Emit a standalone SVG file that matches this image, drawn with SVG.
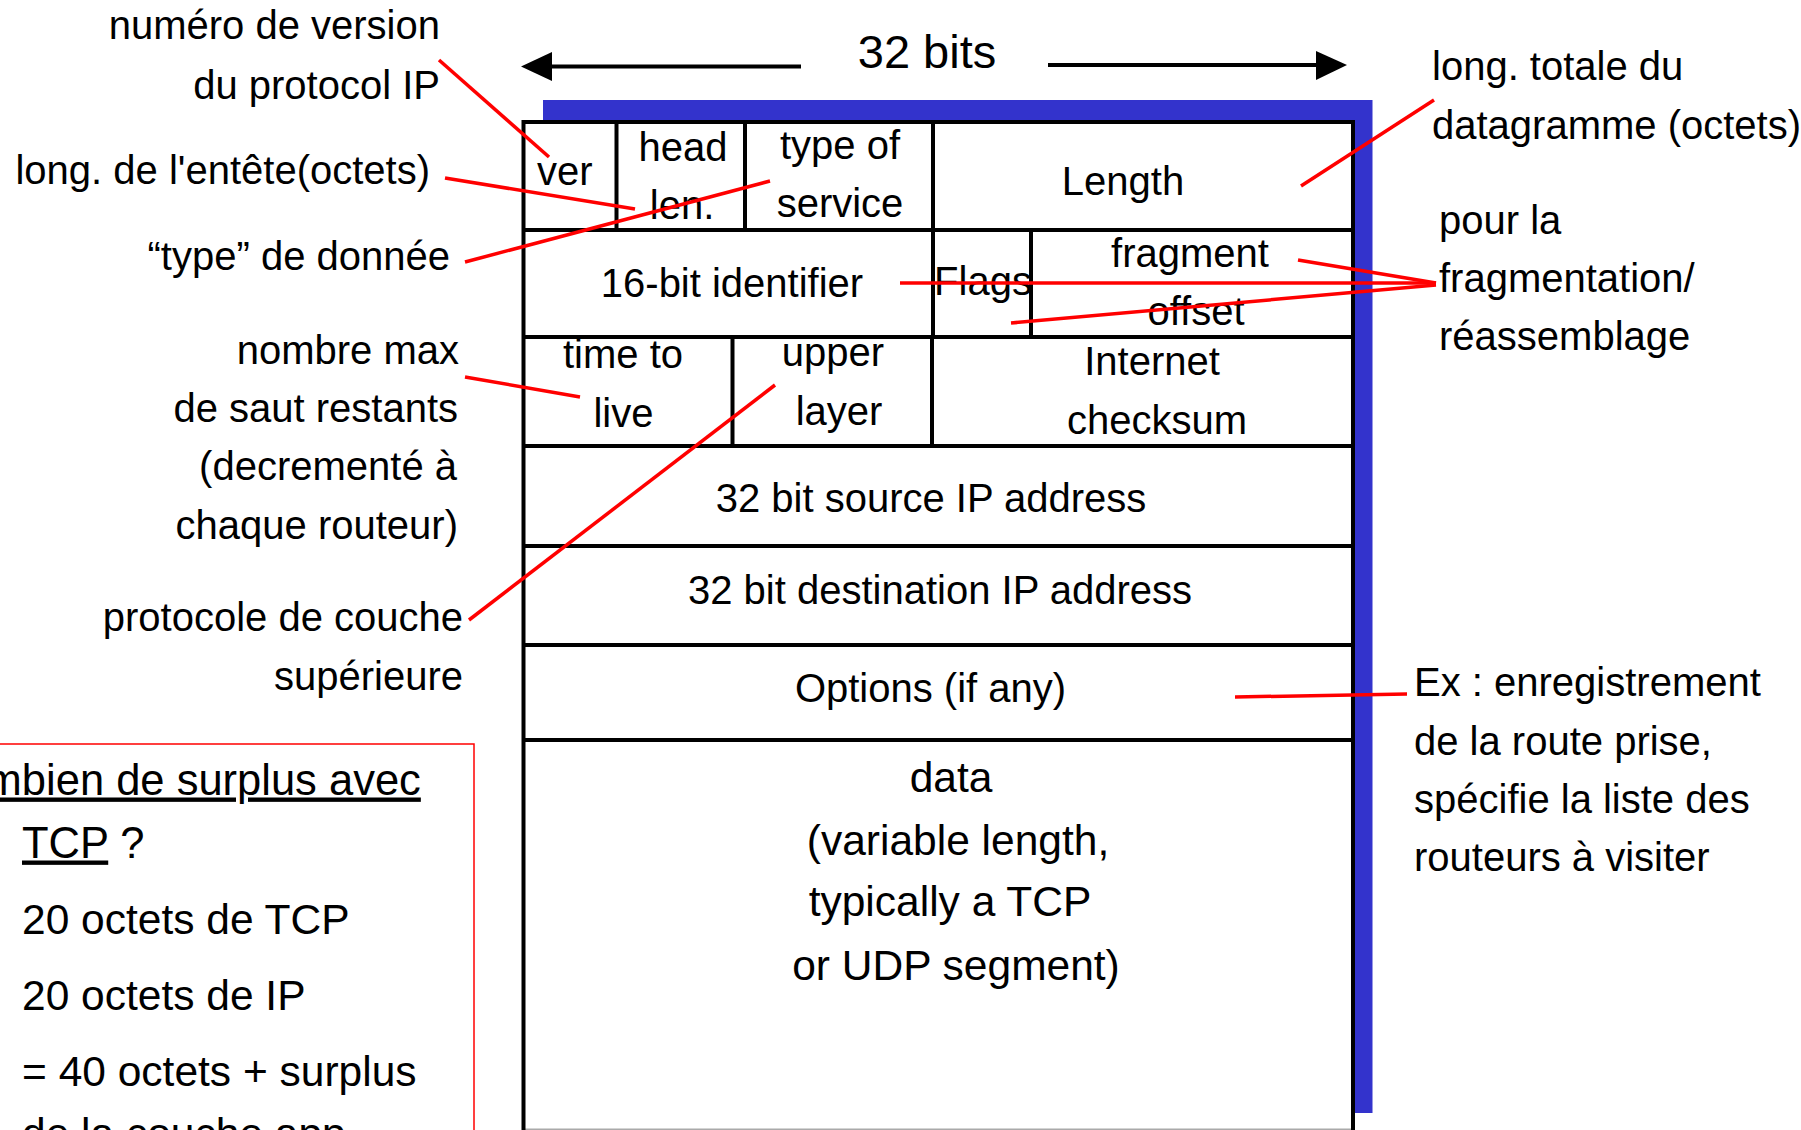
<svg xmlns="http://www.w3.org/2000/svg" width="1801" height="1130" viewBox="0 0 1801 1130">
<style>
text{font-family:"Liberation Sans",Arial,Helvetica,sans-serif;font-size:40px;fill:#000}
.m{text-anchor:middle}
.e{text-anchor:end}
.tl{stroke:#000;stroke-width:4;fill:none}
.rl{stroke:#ff0000;stroke-width:3.5;fill:none}
.u{text-decoration:underline}
.d{font-size:42.5px}
</style>
<rect width="1801" height="1130" fill="#fff"/>

<g id="width-arrow">
<line x1="550" y1="66.5" x2="801" y2="66.5" stroke="#000" stroke-width="4"/>
<polygon points="521,66.5 552,52 552,81" fill="#000"/>
<line x1="1048" y1="65" x2="1318" y2="65" stroke="#000" stroke-width="4"/>
<polygon points="1347,65 1316,51 1316,80" fill="#000"/>
<text x="927" y="68" class="m" style="font-size:47px">32 bits</text>
</g>

<g id="datagram">
<rect x="543" y="100" width="829.5" height="1013" fill="#3333cc"/>
<rect x="523.5" y="122" width="829.5" height="1010" fill="#fff"/>
<line x1="525" y1="1129.5" x2="1351" y2="1129.5" stroke="#aaa" stroke-width="2"/>
<path class="tl" d="M523.5,1132 V122 H1353 V1132"/>
<path class="tl" d="M523.5,230 H1353 M523.5,337 H1353 M523.5,446 H1353 M523.5,546 H1353 M523.5,645 H1353 M523.5,740 H1353"/>
<path class="tl" d="M616.5,122 V230 M745,122 V230 M933,122 V230 M933,230 V337 M1031,230 V337 M732.5,337 V446 M932,337 V446"/>
</g>

<g id="f-ver"><text x="537" y="185">ver</text></g>
<g id="f-headlen"><text x="683" y="161" class="m">head</text><text x="682" y="219" class="m">len.</text></g>
<g id="f-tos"><text x="840" y="159" class="m">type of</text><text x="840" y="217" class="m">service</text></g>
<g id="f-length"><text x="1123" y="195" class="m">Length</text></g>
<g id="f-id"><text x="732" y="297" class="m">16-bit identifier</text></g>
<g id="f-flags"><text x="983" y="295" class="m">Flags</text></g>
<g id="f-frag"><text x="1190" y="267" class="m">fragment</text><text x="1196" y="325" class="m">offset</text></g>
<g id="f-ttl"><text x="623" y="368" class="m">time to</text><text x="623.5" y="427" class="m">live</text></g>
<g id="f-upper"><text x="833" y="366" class="m">upper</text><text x="839" y="425" class="m">layer</text></g>
<g id="f-checksum"><text x="1152" y="375" class="m">Internet</text><text x="1157" y="434" class="m">checksum</text></g>
<g id="f-src"><text x="931" y="512" class="m">32 bit source IP address</text></g>
<g id="f-dst"><text x="940" y="604" class="m">32 bit destination IP address</text></g>
<g id="f-options"><text x="930.5" y="701.5" class="m">Options (if any)</text></g>
<g id="f-data">
<text x="951" y="792" class="m d">data</text>
<text x="958" y="855" class="m d">(variable length,</text>
<text x="950" y="916" class="m d">typically a TCP</text>
<text x="956" y="980" class="m d">or UDP segment)</text>
</g>

<g id="l-version"><text x="440" y="39" class="e">numéro de version</text><text x="440" y="99" class="e">du protocol IP</text></g>
<g id="l-headlen"><text x="430" y="184" class="e">long. de l'entête(octets)</text></g>
<g id="l-type"><text x="450" y="270" class="e">“type” de donnée</text></g>
<g id="l-ttl">
<text x="459" y="364" class="e">nombre max</text>
<text x="458" y="422" class="e">de saut restants</text>
<text x="457" y="480" class="e">(decrementé à</text>
<text x="458" y="539" class="e">chaque routeur)</text>
</g>
<g id="l-proto"><text x="463" y="631" class="e">protocole de couche</text><text x="463" y="690" class="e">supérieure</text></g>
<g id="l-length"><text x="1432" y="80">long. totale du</text><text x="1432" y="139">datagramme (octets)</text></g>
<g id="l-frag"><text x="1439" y="234">pour la</text><text x="1439" y="292">fragmentation/</text><text x="1439" y="350">réassemblage</text></g>
<g id="l-options">
<text x="1414" y="695.5">Ex : enregistrement</text>
<text x="1414" y="755">de la route prise,</text>
<text x="1414" y="813">spécifie la liste des</text>
<text x="1414" y="871">routeurs à visiter</text>
</g>

<g id="overhead-box">
<rect x="-10" y="744" width="484" height="420" fill="none" stroke="#ff0000" stroke-width="1.5"/>
<text x="-70" y="794.5" class="u" style="font-size:43.5px">Combien de surplus avec</text>
<text x="22" y="857.5" style="font-size:43.5px"><tspan class="u">TCP</tspan> ?</text>
<text x="22" y="933.5" style="font-size:42.5px">20 octets de TCP</text>
<text x="22" y="1009.5" style="font-size:42.5px">20 octets de IP</text>
<text x="22" y="1085.5" style="font-size:42.5px">= 40 octets + surplus</text>
<text x="22" y="1147.5" style="font-size:42.5px">de la couche app</text>
</g>

<g id="connectors">
<line class="rl" x1="439" y1="60" x2="549" y2="157"/>
<line class="rl" x1="445" y1="178" x2="635" y2="209"/>
<line class="rl" x1="465" y1="262" x2="770" y2="181"/>
<line class="rl" x1="1301" y1="186" x2="1434" y2="100"/>
<line class="rl" x1="900" y1="283" x2="1436" y2="283"/>
<line class="rl" x1="1298" y1="260" x2="1436" y2="283"/>
<line class="rl" x1="1011" y1="323" x2="1436" y2="285"/>
<line class="rl" x1="465" y1="377" x2="580" y2="397"/>
<line class="rl" x1="469" y1="620" x2="775" y2="385"/>
<line class="rl" x1="1235" y1="697" x2="1407" y2="694"/>
</g>
</svg>
